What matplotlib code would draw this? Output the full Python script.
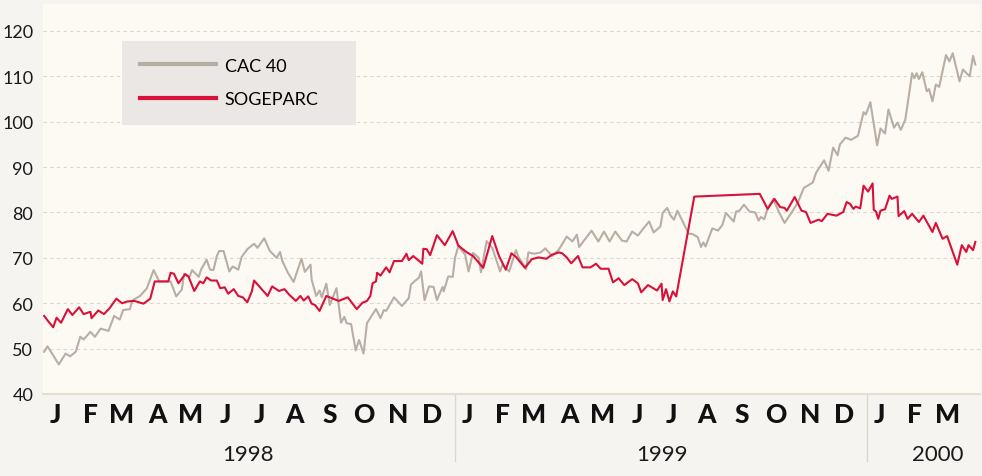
import numpy as np
import matplotlib
matplotlib.use("Agg")
import matplotlib.pyplot as plt
import matplotlib.dates as mdates
from matplotlib.patches import Rectangle
from matplotlib.transforms import blended_transform_factory

plt.rcParams['font.family'] = ['Lato', 'DejaVu Sans']

# days since 1998-01-01 and index values
cac_days = [1, 4, 9, 14, 20, 24, 29, 33, 36, 42, 46, 51, 58, 63, 68, 71, 77, 79, 86, 92,
            98, 103, 113, 118, 123, 125, 130, 132, 138, 140, 145, 148, 151, 154, 156, 160,
            165, 168, 173, 176, 181, 187, 190, 196, 201, 207, 210, 212, 217, 222, 229, 232,
            237, 238, 242, 245, 247, 251, 254, 260, 264, 267, 269, 273, 277, 280, 284, 287,
            295, 299, 302, 304, 311, 318, 324, 326, 329, 333, 335, 338, 342, 346, 349, 354,
            355, 359, 363, 365, 368, 374, 377, 381, 386, 388, 393, 398, 405, 407, 413, 419,
            421, 424, 428, 430, 435, 441, 445, 451, 457, 464, 469, 473, 475, 486, 492, 497,
            502, 507, 513, 517, 522, 527, 532, 537, 541, 547, 549, 553, 556, 559, 562, 566,
            572, 575, 580, 583, 585, 587, 593, 598, 602, 605, 612, 614, 617, 621, 626, 631,
            634, 636, 639, 642, 647, 652, 657, 663, 669, 674, 682, 685, 692, 696, 700, 704,
            706, 711, 716, 722, 727, 729, 733, 739, 742, 746, 749, 754, 757, 760, 764, 770,
            772, 774, 776, 779, 783, 785, 788, 791, 794, 800, 803, 806, 812, 815, 821, 824, 826]
cac_vals = [49.3, 50.5, 48.5, 46.5, 48.9, 48.3, 49.3, 52.6, 52.0, 53.7, 52.6, 54.4, 53.9, 57.2,
            56.4, 58.5, 58.7, 60.6, 61.6, 63.3, 67.3, 64.8, 64.8, 61.5, 63.0, 66.5, 65.9, 67.3,
            65.8, 67.4, 69.6, 67.4, 67.3, 70.4, 71.5, 71.5, 67.0, 68.1, 67.4, 70.2, 71.9, 73.1,
            72.2, 74.3, 71.5, 70.0, 71.3, 69.3, 66.7, 64.7, 69.8, 66.9, 68.5, 65.2, 61.6, 62.8,
            61.3, 64.3, 59.6, 63.3, 55.7, 57.0, 55.6, 55.4, 49.6, 51.9, 48.9, 55.6, 58.7, 56.7,
            58.5, 58.3, 61.3, 59.4, 61.1, 64.1, 64.8, 65.6, 67.0, 60.7, 63.7, 63.6, 60.7, 63.6,
            62.6, 65.9, 65.8, 70.0, 72.6, 70.7, 67.0, 71.1, 70.0, 66.8, 73.7, 72.2, 67.0, 68.5,
            67.0, 71.7, 70.3, 69.2, 67.5, 71.2, 70.9, 71.2, 72.1, 70.4, 71.8, 74.7, 73.6, 75.1,
            72.4, 76.0, 73.6, 75.8, 73.6, 75.8, 73.8, 73.6, 75.8, 74.9, 76.5, 78.0, 75.6, 76.9,
            79.9, 81.0, 79.3, 78.4, 80.4, 78.4, 75.3, 75.3, 74.6, 72.4, 73.4, 72.5, 76.5, 76.0,
            77.3, 79.9, 78.0, 80.2, 80.4, 81.7, 80.2, 80.0, 78.2, 79.0, 78.5, 80.8, 83.0, 80.1,
            77.7, 79.9, 82.3, 85.4, 86.6, 88.8, 91.5, 89.2, 94.3, 92.6, 95.0, 96.5, 96.0, 96.9,
            102.1, 101.6, 104.3, 94.8, 98.5, 97.4, 102.7, 98.7, 99.8, 98.2, 100.5, 110.7, 109.6,
            110.7, 109.4, 110.9, 106.7, 107.2, 104.5, 108.2, 107.7, 114.7, 113.3, 115.1, 108.9,
            111.5, 110.0, 114.5, 112.6]

sog_days = [1, 5, 9, 12, 16, 22, 26, 32, 36, 42, 43, 49, 54, 59, 65, 70, 75, 81, 89, 95,
            99, 111, 113, 116, 120, 126, 129, 134, 139, 142, 145, 149, 154, 157, 161, 164,
            169, 173, 177, 181, 185, 187, 193, 199, 203, 209, 214, 218, 224, 228, 231, 235,
            238, 241, 245, 251, 257, 262, 270, 278, 283, 287, 290, 292, 295, 296, 299, 304,
            307, 311, 318, 322, 324, 328, 336, 337, 340, 343, 349, 356, 363, 368, 375, 381,
            390, 398, 404, 410, 415, 419, 427, 433, 439, 446, 451, 457, 460, 464, 468, 474,
            478, 485, 490, 494, 501, 505, 510, 515, 522, 527, 530, 536, 544, 548, 549, 552,
            555, 558, 561, 577, 635, 642, 648, 653, 657, 659, 666, 672, 676, 680, 687, 690,
            695, 703, 709, 712, 715, 718, 720, 724, 727, 731, 735, 736, 738, 740, 742, 746,
            750, 752, 757, 758, 763, 766, 770, 776, 780, 788, 791, 797, 801, 810, 814, 818,
            820, 824, 826]
sog_vals = [57.2, 55.9, 54.7, 56.8, 55.7, 58.7, 57.4, 59.1, 57.6, 58.1, 56.7, 58.4, 57.6, 58.9,
            61.0, 60.0, 60.4, 60.5, 59.9, 61.0, 64.8, 64.8, 66.7, 66.5, 64.4, 66.4, 65.8, 62.7,
            64.8, 64.4, 65.7, 65.0, 65.0, 63.3, 63.5, 62.1, 63.1, 61.6, 61.3, 60.2, 62.6, 65.0,
            63.3, 61.6, 63.7, 62.7, 63.1, 61.9, 60.5, 61.6, 60.6, 61.5, 59.9, 59.6, 58.3, 61.6,
            61.0, 60.5, 61.3, 58.7, 60.1, 60.5, 61.6, 64.4, 64.8, 66.7, 66.1, 67.9, 66.8, 69.3,
            69.3, 70.9, 69.5, 70.4, 68.7, 72.0, 71.9, 70.6, 75.0, 72.8, 75.9, 72.7, 71.3, 70.4,
            67.8, 74.8, 70.4, 67.4, 71.0, 70.2, 67.8, 69.7, 70.1, 69.8, 70.7, 71.2, 71.0, 70.1,
            68.8, 70.4, 67.9, 67.9, 68.7, 67.6, 67.6, 64.6, 65.5, 64.0, 65.3, 64.4, 62.4, 64.0,
            62.8, 64.3, 60.7, 63.1, 60.4, 62.6, 61.5, 83.5, 84.1, 80.8, 83.0, 81.2, 81.0, 80.4,
            83.4, 80.4, 80.1, 77.7, 78.4, 78.1, 79.7, 79.3, 80.1, 82.3, 81.9, 80.8, 81.3, 80.9,
            85.9, 84.6, 86.4, 80.6, 80.2, 78.6, 80.4, 80.7, 83.7, 83.0, 83.5, 79.2, 80.3, 78.6,
            79.7, 77.9, 79.3, 75.7, 77.7, 74.2, 74.8, 68.5, 72.8, 71.3, 72.8, 71.7, 73.5]

years = ['1998', '1999', '2000']
year_label_dates = ['1998-07-02', '1999-07-03', '2000-03-04']
year_breaks = ['1999-01-01', '2000-01-01']

start = np.datetime64('1998-01-01')
cac_x = start + np.array(cac_days).astype('timedelta64[D]')
sog_x = start + np.array(sog_days).astype('timedelta64[D]')

fig = plt.figure(figsize=(9.82, 4.77), dpi=100, facecolor='#f6f4f1')
ax = fig.add_axes([0.0438, 0.172, 0.954, 0.818])
ax.set_facecolor('#fdfaf4')

ax.plot(cac_x, cac_vals, color='#b9aea3', lw=1.5, label='CAC 40')
ax.plot(sog_x, sog_vals, color='#d8103a', lw=1.5, label='SOGEPARC')

ax.set_ylim(40, 126)
ax.set_xlim(start, start + np.timedelta64(830, 'D'))
ax.set_yticks(range(40, 121, 10))
ax.yaxis.grid(True, color='#dcd6cd', lw=0.8, linestyle=(0, (3, 3)))
ax.set_axisbelow(True)
for s in ['top', 'right', 'left']:
    ax.spines[s].set_visible(False)
ax.spines['bottom'].set_color('#e6ddd2')
ax.spines['bottom'].set_linewidth(1.5)
ax.tick_params(axis='y', length=0, pad=7, labelsize=13, labelcolor='#1a1a1a')

ax.xaxis.set_major_locator(mdates.MonthLocator())
ax.xaxis.set_major_formatter(plt.NullFormatter())
ax.xaxis.set_minor_locator(mdates.MonthLocator(bymonthday=12))
ax.xaxis.set_minor_formatter(plt.FuncFormatter(
    lambda v, pos: mdates.num2date(v).strftime('%b')[0]))
ax.tick_params(axis='x', which='both', length=0)
ax.tick_params(axis='x', which='minor', pad=6, labelsize=19, labelcolor='#111111')
for lab in ax.get_xticklabels(minor=True):
    lab.set_fontweight(900)

trans = blended_transform_factory(ax.transData, ax.transAxes)
for d in year_breaks:
    ax.plot([np.datetime64(d)] * 2, [0, -0.172], transform=trans, clip_on=False,
            color='#ddd6ce', lw=1)
for name, d in zip(years, year_label_dates):
    ax.text(np.datetime64(d), -0.155, name, transform=trans, ha='center', va='center',
            fontsize=16, color='#1a1a1a')

# legend box
ax.add_patch(Rectangle((0.0843, 0.6897), 0.2497, 0.2154, transform=ax.transAxes,
                       facecolor='#ebe7e4', edgecolor='none', zorder=4))
leg = ax.legend(loc='upper left', bbox_to_anchor=(0.1035, 0.862), fontsize=13,
                frameon=False, handlelength=4.2, handletextpad=0.5,
                borderpad=0, labelspacing=0.98, borderaxespad=0)
leg.set_zorder(5)
for line in leg.get_lines():
    line.set_linewidth(3)

fig.savefig('out.png', dpi=100, facecolor=fig.get_facecolor())
